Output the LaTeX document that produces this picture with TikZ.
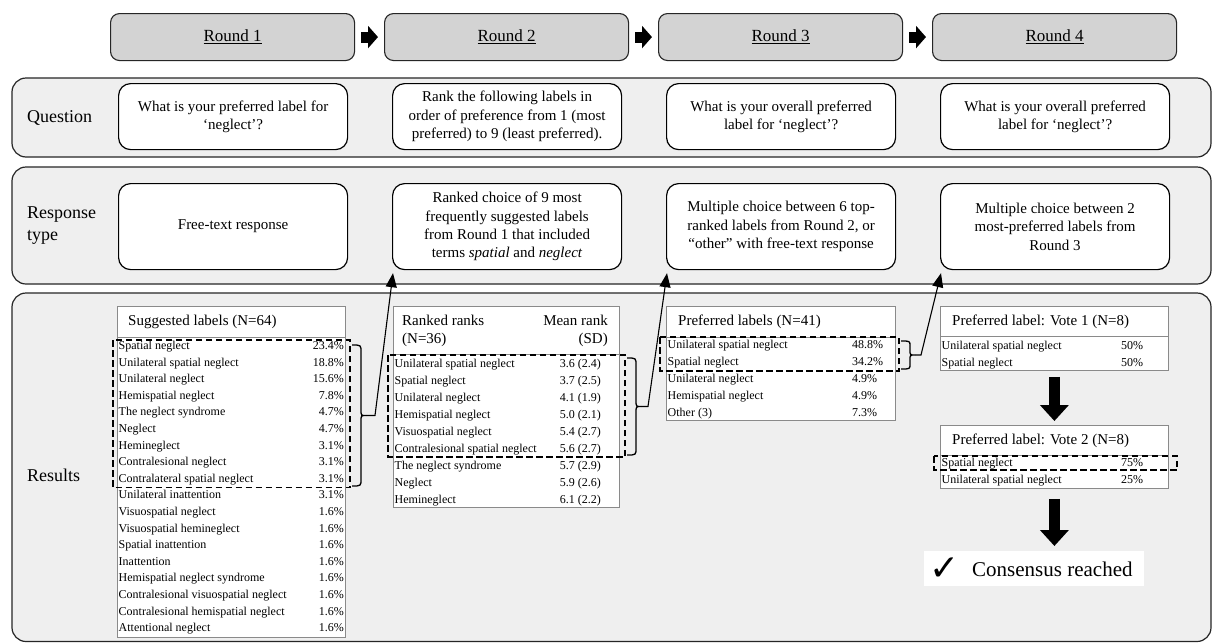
\documentclass[tikz,border=0pt]{standalone}
\usepackage{fontspec}
\setmainfont{Liberation Serif}
\newfontfamily\symfont{DejaVu Sans}
\usetikzlibrary{arrows.meta,calc}
\definecolor{bandgray}{HTML}{EFEFEF}
\definecolor{roundgray}{HTML}{D3D3D3}
\definecolor{tblgray}{HTML}{8A8A8A}
\begin{document}
\begin{tikzpicture}[x=1pt,y=-1pt,
  band/.style={draw=black!85, line width=1.2pt, fill=bandgray, rounded corners=14pt},
  roundbox/.style={draw=black!85, line width=1.1pt, fill=roundgray, rounded corners=9pt, anchor=north west, minimum width=244pt, minimum height=47pt, inner sep=0pt, font=\fontsize{17}{20}\selectfont},
  qbox/.style={draw=black, line width=1.2pt, fill=white, rounded corners=12pt, anchor=north west, minimum width=229pt, inner sep=0pt, align=center, font=\fontsize{15}{18.3}\selectfont},
  lbl/.style={anchor=west, inner sep=0pt, align=left, font=\fontsize{18}{22}\selectfont},
  tbl/.style={draw=tblgray, line width=0.8pt, fill=white, anchor=north west, inner sep=0pt},
  tline/.style={draw=tblgray, line width=0.8pt},
  hdr/.style={inner sep=0pt, text height=10.5pt, text depth=3.5pt, font=\fontsize{15}{18}\selectfont},
  rowtxt/.style={inner sep=0pt, text height=8.5pt, text depth=2.5pt, font=\fontsize{12}{14}\selectfont},
  dbox/.style={draw=black, line width=1.5pt, dash pattern=on 6.5pt off 3.5pt},
  bracestyle/.style={draw=black, line width=1.3pt},
  conn/.style={draw=black, line width=1.1pt, -{Triangle[length=14pt,width=11pt]}},
  blockarrow/.style={draw=black, line width=11pt, -{Triangle[length=10pt,width=22pt]}},
  bigdown/.style={draw=black, line width=11pt, -{Triangle[length=16pt,width=28pt]}}
]
\useasboundingbox (0,0) rectangle (1213,643);
\fill[white] (0,0) rectangle (1213,643);

% bands
\draw[band] (12,78) rectangle (1211,157);
\draw[band] (12,167) rectangle (1211,284);
\draw[band] (12,293) rectangle (1211,641.5);

% round boxes
\node[roundbox] (rb1) at (110,13) {\underline{Round 1}};
\node[roundbox] (rb2) at (384,13) {\underline{Round 2}};
\node[roundbox] (rb3) at (658,13) {\underline{Round 3}};
\node[roundbox] (rb4) at (932,13) {\underline{Round 4}};
\draw[blockarrow, shorten <=6pt, shorten >=6pt] (rb1.east) -- (rb2.west);
\draw[blockarrow, shorten <=6pt, shorten >=6pt] (rb2.east) -- (rb3.west);
\draw[blockarrow, shorten <=6pt, shorten >=6pt] (rb3.east) -- (rb4.west);

% band labels
\node[lbl] (lq) at (27,117.5) {Question};
\node[lbl] (lr) at (27,226) {Response\\type};
\node[lbl] (lres) at (27,475) {Results};

% question boxes
\node[qbox, minimum height=66pt] (q1) at (118,83) {What is your preferred label for\\‘neglect’?};
\node[qbox, minimum height=66pt] (q2) at (392,83) {Rank the following labels in\\order of preference from 1 (most\\preferred) to 9 (least preferred).};
\node[qbox, minimum height=66pt] (q3) at (666,83) {What is your overall preferred\\label for ‘neglect’?};
\node[qbox, minimum height=66pt] (q4) at (940,83) {What is your overall preferred\\label for ‘neglect’?};

% response boxes
\node[qbox, minimum height=86pt] (r1) at (118,183) {Free-text response};
\node[qbox, minimum height=86pt] (r2) at (392,183) {Ranked choice of 9 most\\frequently suggested labels\\from Round 1 that included\\terms \textit{spatial} and \textit{neglect}};
\node[qbox, minimum height=86pt] (r3) at (666,183) {Multiple choice between 6 top-\\ranked labels from Round 2, or\\“other” with free-text response};
\node[qbox, minimum height=86pt] (r4) at (940,183) {Multiple choice between 2\\most-preferred labels from\\Round 3};

% Table 1
\node[tbl, minimum width=228pt, minimum height=331pt] (t1) at (117,306) {};
\draw[tline] (117,337) -- (345,337);
\node[hdr, anchor=west] (t1h) at (128,322) {Suggested labels (N=64)};
\foreach \t/\v [count=\i from 0] in {Spatial neglect/23.4\%, Unilateral spatial neglect/18.8\%, Unilateral neglect/15.6\%, Hemispatial neglect/7.8\%, The neglect syndrome/4.7\%, Neglect/4.7\%, Hemineglect/3.1\%, Contralesional neglect/3.1\%, Contralateral spatial neglect/3.1\%, Unilateral inattention/3.1\%, Visuospatial neglect/1.6\%, Visuospatial hemineglect/1.6\%, Spatial inattention/1.6\%, Inattention/1.6\%, Hemispatial neglect syndrome/1.6\%, Contralesional visuospatial neglect/1.6\%, Contralesional hemispatial neglect/1.6\%, Attentional neglect/1.6\%}{
  \node[rowtxt, anchor=west] (t1a\i) at (118.5,{346.5+16.6*\i}) {\t};
  \node[rowtxt, anchor=east] (t1b\i) at (344,{346.5+16.6*\i}) {\v};
}
\draw[dbox] (113,340) rectangle (350,487.5);
\draw[bracestyle] (352,345) .. controls (361,345) .. (361,352) -- (361,409.5) .. controls (361,415.5) .. (366,415.5) .. controls (361,415.5) .. (361,421.5) -- (361,479) .. controls (361,486) .. (352,486);
\coordinate (b1) at (366,415.5);
\draw[conn] (b1) -- ++(9,0) -- ([xshift=1pt,yshift=-3pt]r2.south west);

% Table 2
\node[tbl, minimum width=226pt, minimum height=201pt] (t2) at (393,306) {};
\draw[tline] (393,354) -- (619,354);
\node[hdr, anchor=west] (t2h1) at (402,322) {Ranked ranks};
\node[hdr, anchor=west] (t2h2) at (402,340) {(N=36)};
\node[hdr, anchor=east] (t2h3) at (608,322) {Mean rank};
\node[hdr, anchor=east] (t2h4) at (608,340) {(SD)};
\foreach \t/\v [count=\i from 0] in {Unilateral spatial neglect/3.6 (2.4), Spatial neglect/3.7 (2.5), Unilateral neglect/4.1 (1.9), Hemispatial neglect/5.0 (2.1), Visuospatial neglect/5.4 (2.7), Contralesional spatial neglect/5.6 (2.7), The neglect syndrome/5.7 (2.9), Neglect/5.9 (2.6), Hemineglect/6.1 (2.2)}{
  \node[rowtxt, anchor=west] (t2a\i) at (394.5,{364+17*\i}) {\t};
  \node[rowtxt, anchor=east] (t2b\i) at (601,{364+17*\i}) {\v};
}
\draw[dbox] (388,355) rectangle (625,457);
\draw[bracestyle] (627,358) .. controls (636,358) .. (636,365) -- (636,400) .. controls (636,406.5) .. (641,406.5) .. controls (636,406.5) .. (636,413) -- (636,448) .. controls (636,455) .. (627,455);
\coordinate (b2) at (641,406.5);
\draw[conn] (b2) -- ++(7,0) -- ([xshift=1pt,yshift=-3pt]r3.south west);

% Table 3
\node[tbl, minimum width=229pt, minimum height=114pt] (t3) at (666,306) {};
\draw[tline] (666,337) -- (895,337);
\node[hdr, anchor=west] (t3h) at (678,322) {Preferred labels (N=41)};
\foreach \t/\v [count=\i from 0] in {Unilateral spatial neglect/48.8\%, Spatial neglect/34.2\%, Unilateral neglect/4.9\%, Hemispatial neglect/4.9\%, Other (3)/7.3\%}{
  \node[rowtxt, anchor=west] (t3a\i) at (667.5,{345+17*\i}) {\t};
  \node[rowtxt, anchor=west] (t3b\i) at (852,{345+17*\i}) {\v};
}
\draw[dbox] (660,337) rectangle (899,371);
\draw[bracestyle] (901,341) .. controls (910,341) .. (910,346) -- (910,350) .. controls (910,355) .. (915,355) .. controls (910,355) .. (910,360) -- (910,364) .. controls (910,369) .. (901,369);
\coordinate (b3) at (915,355);
\draw[conn] (b3) -- ++(6,0) -- ([xshift=1pt,yshift=-3pt]r4.south west);

% Table 4
\node[tbl, minimum width=228pt, minimum height=64pt] (t4) at (940,306) {};
\draw[tline] (940,336) -- (1168,336);
\node[hdr, anchor=west] (t4h) at (952,322) {Preferred label: Vote 1 (N=8)};
\foreach \t/\v [count=\i from 0] in {Unilateral spatial neglect/50\%, Spatial neglect/50\%}{
  \node[rowtxt, anchor=west] (t4a\i) at (941.5,{346+17*\i}) {\t};
  \node[rowtxt, anchor=west] (t4b\i) at (1121,{346+17*\i}) {\v};
}

% Table 5
\node[tbl, minimum width=228pt, minimum height=63pt] (t5) at (940,425) {};
\draw[tline] (940,455) -- (1168,455);
\node[hdr, anchor=west] (t5h) at (952,441) {Preferred label: Vote 2 (N=8)};
\foreach \t/\v [count=\i from 0] in {Spatial neglect/75\%, Unilateral spatial neglect/25\%}{
  \node[rowtxt, anchor=west] (t5a\i) at (941.5,{463+17*\i}) {\t};
  \node[rowtxt, anchor=west] (t5b\i) at (1121,{463+17*\i}) {\v};
}
\draw[dbox] (934,456) rectangle (1177,470);

% consensus
\node[fill=white, anchor=north west, minimum width=220pt, minimum height=35pt, inner sep=0pt] (cons) at (924,551) {};
\node[inner sep=0pt, font=\symfont\fontsize{36}{38}\selectfont] (chk) at (945,569) {✓};
\node[inner sep=0pt, anchor=west, font=\fontsize{21}{24}\selectfont] (ctxt) at (972,569) {Consensus reached};

\draw[bigdown, shorten <=6pt, shorten >=4pt] (t4.south) -- (t5.north);
\draw[bigdown, shorten <=10pt, shorten >=5pt] (t5.south) -- (t5.south |- cons.north);
\end{tikzpicture}
\end{document}
